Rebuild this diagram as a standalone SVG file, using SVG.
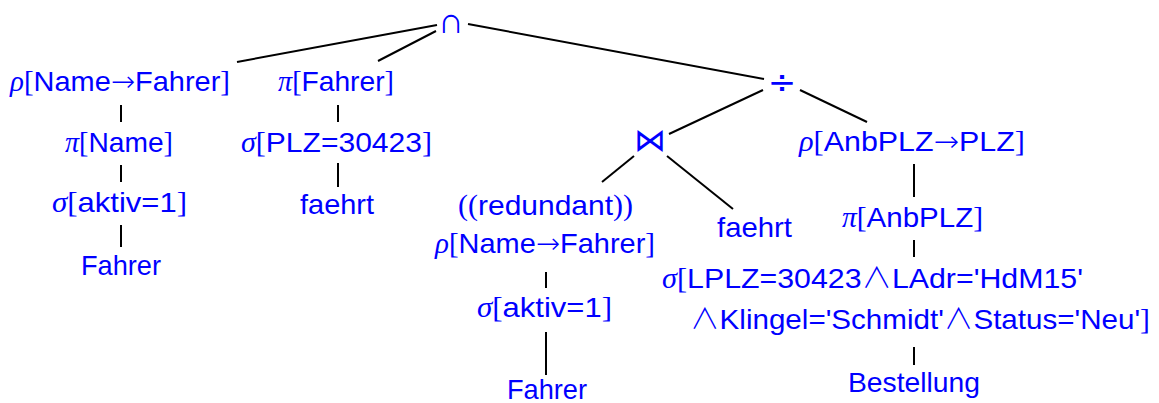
<svg xmlns="http://www.w3.org/2000/svg" width="1159" height="403" viewBox="0 0 1159 403">
<style>
.t{font-family:"Liberation Sans","DejaVu Sans",sans-serif;font-size:28.5px;fill:#0000ff;text-anchor:middle}
.l{text-anchor:start}
.g{font-family:"Liberation Serif","DejaVu Serif",serif;font-style:italic}
.b{font-family:"Liberation Serif","DejaVu Serif",serif}
.s{font-family:"DejaVu Sans",sans-serif;font-weight:200}
.r{font-family:"DejaVu Sans",sans-serif}
.w{font-family:"Noto Sans CJK JP","DejaVu Sans",sans-serif;font-weight:300}
.c line{stroke:#000;stroke-width:2;stroke-linecap:butt}
</style>
<rect width="1159" height="403" fill="#fff"/>
<g id="connectors" class="c">
<line x1="437" y1="25" x2="237" y2="62"/>
<line x1="436" y1="31" x2="378" y2="61"/>
<line x1="468" y1="24" x2="764" y2="79"/>
<line x1="763" y1="90" x2="669" y2="134"/>
<line x1="800" y1="90" x2="867" y2="122"/>
<line x1="634" y1="156" x2="602" y2="182"/>
<line x1="667" y1="156" x2="733" y2="209"/>
<line x1="121" y1="105" x2="121" y2="122"/>
<line x1="121" y1="165" x2="121" y2="182"/>
<line x1="121" y1="225" x2="121" y2="247"/>
<line x1="338" y1="105" x2="338" y2="122"/>
<line x1="338" y1="163" x2="338" y2="187"/>
<line x1="546" y1="272" x2="546" y2="288"/>
<line x1="546" y1="332" x2="546" y2="375"/>
<line x1="914" y1="164" x2="914" y2="197"/>
<line x1="914" y1="240" x2="914" y2="257"/>
<line x1="914" y1="347" x2="914" y2="365"/>
</g>
<g id="n_intersect"><text class="t s" x="451" y="33" style="font-size:36px">∩</text></g>
<g id="n_rho1"><text class="t" x="120" y="91" textLength="220" lengthAdjust="spacingAndGlyphs"><tspan class="g">ρ</tspan><tspan class="b">[</tspan>Name<tspan class="s">→</tspan>Fahrer<tspan class="b">]</tspan></text></g>
<g id="n_pi1"><text class="t" x="119" y="152" textLength="108" lengthAdjust="spacingAndGlyphs"><tspan class="g">π</tspan><tspan class="b">[</tspan>Name<tspan class="b">]</tspan></text></g>
<g id="n_sigma1"><text class="t" x="119.5" y="212" textLength="135" lengthAdjust="spacingAndGlyphs"><tspan class="g">σ</tspan><tspan class="b">[</tspan>aktiv=1<tspan class="b">]</tspan></text></g>
<g id="n_fahrer1"><text class="t" x="121" y="275" textLength="80" lengthAdjust="spacingAndGlyphs">Fahrer</text></g>
<g id="n_pi2"><text class="t" x="336" y="91" textLength="116" lengthAdjust="spacingAndGlyphs"><tspan class="g">π</tspan><tspan class="b">[</tspan>Fahrer<tspan class="b">]</tspan></text></g>
<g id="n_sigma2"><text class="t" x="336.5" y="152" textLength="191" lengthAdjust="spacingAndGlyphs"><tspan class="g">σ</tspan><tspan class="b">[</tspan>PLZ=30423<tspan class="b">]</tspan></text></g>
<g id="n_faehrt1"><text class="t" x="337" y="214" textLength="74" lengthAdjust="spacingAndGlyphs">faehrt</text></g>
<g id="n_div"><text class="t r" x="782" y="94" style="font-size:34px">÷</text></g>
<g id="n_join"><text class="t s" x="650" y="151" style="font-size:32px">⋈</text></g>
<g id="n_rho2"><text class="t" x="545.5" y="215" textLength="175" lengthAdjust="spacingAndGlyphs"><tspan class="b">((</tspan>redundant<tspan class="b">))</tspan></text><text class="t" x="545" y="253" textLength="220" lengthAdjust="spacingAndGlyphs"><tspan class="g">ρ</tspan><tspan class="b">[</tspan>Name<tspan class="s">→</tspan>Fahrer<tspan class="b">]</tspan></text></g>
<g id="n_sigma3"><text class="t" x="544.5" y="317" textLength="135" lengthAdjust="spacingAndGlyphs"><tspan class="g">σ</tspan><tspan class="b">[</tspan>aktiv=1<tspan class="b">]</tspan></text></g>
<g id="n_fahrer2"><text class="t" x="547" y="399" textLength="80" lengthAdjust="spacingAndGlyphs">Fahrer</text></g>
<g id="n_faehrt2"><text class="t" x="754.5" y="237" textLength="75" lengthAdjust="spacingAndGlyphs">faehrt</text></g>
<g id="n_rho3"><text class="t" x="912" y="151" textLength="226" lengthAdjust="spacingAndGlyphs"><tspan class="g">ρ</tspan><tspan class="b">[</tspan>AnbPLZ<tspan class="s">→</tspan>PLZ<tspan class="b">]</tspan></text></g>
<g id="n_pi3"><text class="t" x="912.5" y="227" textLength="141" lengthAdjust="spacingAndGlyphs"><tspan class="g">π</tspan><tspan class="b">[</tspan>AnbPLZ<tspan class="b">]</tspan></text></g>
<g id="n_sigma4"><text class="t l" x="662" y="288" textLength="421" lengthAdjust="spacingAndGlyphs"><tspan class="g">σ</tspan><tspan class="b">[</tspan>LPLZ=30423<tspan class="w">∧</tspan>LAdr='HdM15'</text><text class="t l" x="690" y="329" textLength="460" lengthAdjust="spacingAndGlyphs"><tspan class="w">∧</tspan>Klingel='Schmidt'<tspan class="w">∧</tspan>Status='Neu'<tspan class="b">]</tspan></text></g>
<g id="n_bestellung"><text class="t" x="914" y="392" textLength="132" lengthAdjust="spacingAndGlyphs">Bestellung</text></g>
</svg>
